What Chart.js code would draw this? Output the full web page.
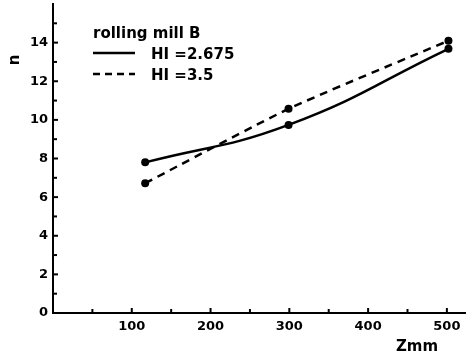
<!DOCTYPE html>
<html>
<head>
<meta charset="utf-8">
<script src="https://cdn.jsdelivr.net/npm/chart.js@4/dist/chart.umd.min.js"></script>
<style>
html,body{margin:0;padding:0;background:#fff;}
#wrap{width:473px;height:358px;position:relative;}
</style>
</head>
<body>
<div id="wrap"><canvas id="c" width="473" height="358"></canvas></div>
<script>
// Data
const zmm = [117, 299, 502];
const nHI2675 = [7.8, 9.74, 13.68];
const nHI35 = [6.72, 10.57, 14.1];
const xTickLabels = [100, 200, 300, 400, 500];
const yTickLabels = [0, 2, 4, 6, 8, 10, 12, 14];
const xMinorTicks = [50, 100, 150, 200, 250, 300, 350, 400, 450, 500];
const yMinorTicks = [1, 2, 3, 4, 5, 6, 7, 8, 9, 10, 11, 12, 13, 14, 15];
const legendTitle = "rolling mill B";
const seriesNames = ["HI =2.675", "HI =3.5"];
const xTitle = "Zmm";
const yTitle = "n";

const FONT = "'DejaVu Sans', sans-serif";

const overlay = {
  id: 'overlay',
  afterDraw(chart) {
    const ctx = chart.ctx;
    const xs = chart.scales.x, ys = chart.scales.y;
    const ca = chart.chartArea;
    ctx.save();
    ctx.strokeStyle = '#000';
    ctx.lineWidth = 2;
    xMinorTicks.forEach(v => {
      const px = xs.getPixelForValue(v);
      ctx.beginPath(); ctx.moveTo(px, ca.bottom); ctx.lineTo(px, ca.bottom - (v % 100 === 0 ? 5 : 4)); ctx.stroke();
    });
    yMinorTicks.forEach(v => {
      const py = ys.getPixelForValue(v);
      ctx.beginPath(); ctx.moveTo(ca.left, py); ctx.lineTo(ca.left + (v % 2 === 0 ? 5 : 4), py); ctx.stroke();
    });
    ctx.fillStyle = '#000';
    ctx.font = "bold 15px " + FONT;
    ctx.textBaseline = 'alphabetic';
    ctx.textAlign = 'left';
    ctx.fillText(legendTitle, 93, 38);
    ctx.lineWidth = 2.5;
    ctx.beginPath(); ctx.moveTo(93, 53); ctx.lineTo(135, 53); ctx.stroke();
    ctx.fillText(seriesNames[0], 151, 58.5);
    ctx.setLineDash([7, 5]);
    ctx.beginPath(); ctx.moveTo(93, 74); ctx.lineTo(135, 74); ctx.stroke();
    ctx.setLineDash([]);
    ctx.fillText(seriesNames[1], 151, 79.5);
    ctx.textAlign = 'center';
    ctx.textBaseline = 'middle';
    ctx.fillText(xTitle, 417, 347);
    ctx.translate(15, 60);
    ctx.rotate(-Math.PI / 2);
    ctx.fillText(yTitle, 0, 0);
    ctx.restore();
  }
};

new Chart(document.getElementById('c'), {
  type: 'line',
  data: {
    datasets: [
      {
        label: seriesNames[0],
        data: zmm.map((x, i) => ({ x, y: nHI2675[i] })),
        borderColor: '#000', backgroundColor: '#000',
        borderWidth: 2.5, pointRadius: 4, pointBorderWidth: 0,
        tension: 0.45
      },
      {
        label: seriesNames[1],
        data: zmm.map((x, i) => ({ x, y: nHI35[i] })),
        borderColor: '#000', backgroundColor: '#000',
        borderWidth: 2.5, borderDash: [8, 6], pointRadius: 4, pointBorderWidth: 0,
        tension: 0.2
      }
    ]
  },
  options: {
    responsive: false,
    animation: false,
    devicePixelRatio: 1,
    layout: { padding: { top: 4, right: 8, left: 0, bottom: 0 } },
    plugins: { legend: { display: false }, tooltip: { enabled: false } },
    scales: {
      x: {
        type: 'linear', min: 0, max: 523,
        afterBuildTicks: s => { s.ticks = xTickLabels.map(v => ({ value: v })); },
        afterFit: s => { s.height = 45; s.paddingLeft = 0; s.paddingRight = 0; },
        grid: { display: false, drawTicks: false },
        border: { display: true, color: '#000', width: 2 },
        ticks: { color: '#000', padding: 6, maxRotation: 0, font: { family: FONT, weight: 'bold', size: 13 } }
      },
      y: {
        type: 'linear', min: 0, max: 16,
        afterBuildTicks: s => { s.ticks = yTickLabels.map(v => ({ value: v })); },
        afterFit: s => { s.width = 53; s.paddingTop = 0; s.paddingBottom = 0; },
        grid: { display: false, drawTicks: false },
        border: { display: true, color: '#000', width: 2 },
        ticks: { color: '#000', padding: 5, font: { family: FONT, weight: 'bold', size: 13 } }
      }
    }
  },
  plugins: [overlay]
});
</script>
</body>
</html>
